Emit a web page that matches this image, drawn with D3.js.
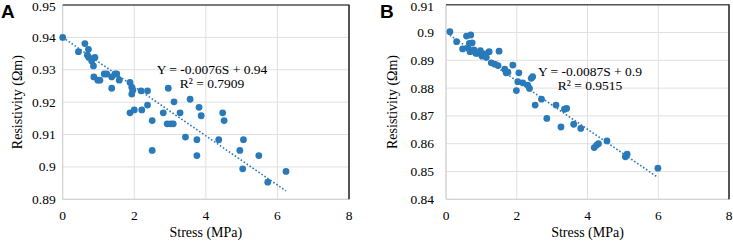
<!DOCTYPE html>
<html>
<head>
<meta charset="utf-8">
<script src="https://cdn.jsdelivr.net/npm/d3@7"></script>
<style>
  html, body { margin: 0; padding: 0; background: #fff; }
  svg { display: block; }
  text { font-family: "Liberation Serif", "Times New Roman", serif; fill: #000; }
</style>
</head>
<body>
<svg id="chart" width="733" height="242"></svg>
<script>
// ---------- data ----------
const xTicks = [0, 2, 4, 6, 8];
const yTicksA = [0.89, 0.90, 0.91, 0.92, 0.93, 0.94, 0.95];
const yTickLabelsA = ["0.89", "0.9", "0.91", "0.92", "0.93", "0.94", "0.95"];
const yTicksB = [0.84, 0.85, 0.86, 0.87, 0.88, 0.89, 0.90, 0.91];
const yTickLabelsB = ["0.84", "0.85", "0.86", "0.87", "0.88", "0.89", "0.9", "0.91"];

const stressA = [0, 0.44, 0.62, 0.69, 0.72, 0.73, 0.81, 0.90, 0.86, 0.87, 0.98, 1.04, 1.16, 1.23, 1.37, 1.37, 1.46, 1.51, 1.58, 1.88, 1.93, 1.96, 1.93, 2.19, 2.37, 2.95, 3.11, 3.56, 3.81, 3.87, 4.47, 4.51, 1.88, 2.00, 2.21, 2.37, 2.81, 3.28, 2.50, 2.92, 3.02, 3.09, 3.43, 3.75, 4.36, 5.05, 2.50, 3.75, 4.95, 5.03, 5.48, 5.73, 6.24];
const resA    = [0.940, 0.9356, 0.9381, 0.9345, 0.9363, 0.9338, 0.9327, 0.9338, 0.9312, 0.9278, 0.9268, 0.9268, 0.9287, 0.9287, 0.9278, 0.9243, 0.9287, 0.9287, 0.9268, 0.9261, 0.9246, 0.9237, 0.9225, 0.9235, 0.9235, 0.9243, 0.9201, 0.9209, 0.9184, 0.9158, 0.9167, 0.9143, 0.9167, 0.9176, 0.9176, 0.9191, 0.9167, 0.9167, 0.9143, 0.9133, 0.9133, 0.9133, 0.9092, 0.9084, 0.9084, 0.9084, 0.9051, 0.9035, 0.9051, 0.8994, 0.9035, 0.8953, 0.8986];

const stressB = [0.11, 0.30, 0.47, 0.58, 0.70, 0.66, 0.74, 0.63, 0.68, 0.79, 0.84, 0.89, 0.97, 1.02, 1.10, 1.14, 1.22, 1.50, 1.28, 1.38, 1.47, 1.66, 1.70, 1.75, 1.89, 2.06, 2.03, 1.99, 2.17, 2.31, 2.36, 2.41, 2.45, 2.52, 2.70, 2.85, 3.11, 3.35, 3.41, 3.25, 3.61, 3.81, 4.19, 4.26, 4.31, 4.55, 5.07, 5.12, 5.99];
const resB    = [0.9003, 0.8967, 0.8941, 0.8987, 0.8991, 0.8961, 0.8963, 0.8943, 0.8931, 0.8937, 0.8925, 0.8925, 0.8935, 0.8915, 0.8923, 0.8911, 0.8931, 0.8933, 0.8891, 0.8886, 0.8881, 0.8868, 0.8855, 0.8857, 0.8883, 0.8855, 0.8823, 0.8791, 0.8819, 0.8811, 0.8799, 0.8835, 0.8841, 0.8739, 0.8760, 0.8691, 0.8739, 0.8724, 0.8727, 0.8660, 0.8670, 0.8655, 0.8586, 0.8595, 0.8600, 0.8610, 0.8553, 0.8562, 0.8512];

const trendA = { slope: -0.0076, intercept: 0.94, from: 0, to: 6.24 };
const trendB = { slope: -0.0087, intercept: 0.9, from: 0.11, to: 5.99 };
const eqA = ["Y = -0.0076S + 0.94", "R² = 0.7909"];
const eqB = ["Y = -0.0087S + 0.9", "R² = 0.9515"];

// ---------- drawing ----------
const svg = d3.select("#chart");
const blue = "#2a7ab9";

function panel(cfg) {
  const g = svg.append("g");
  const x = d3.scaleLinear().domain([0, 8]).range([cfg.left, cfg.right]);
  const y = d3.scaleLinear().domain(cfg.yDomain).range([cfg.bottom, cfg.top]);

  // gridlines
  g.append("g").selectAll("line").data(xTicks).join("line")
    .attr("x1", d => x(d)).attr("x2", d => x(d))
    .attr("y1", cfg.top).attr("y2", cfg.bottom)
    .attr("stroke", "#e0e0e0").attr("stroke-width", 1);
  g.append("g").selectAll("line").data(cfg.yTicks).join("line")
    .attr("x1", cfg.left).attr("x2", cfg.right)
    .attr("y1", d => y(d)).attr("y2", d => y(d))
    .attr("stroke", "#e0e0e0").attr("stroke-width", 1);

  // axis lines (left & bottom light)
  g.append("line").attr("x1", cfg.left).attr("x2", cfg.left)
    .attr("y1", cfg.top).attr("y2", cfg.bottom).attr("stroke", "#cfcfcf");
  g.append("line").attr("x1", cfg.left).attr("x2", cfg.right)
    .attr("y1", cfg.bottom).attr("y2", cfg.bottom).attr("stroke", "#cfcfcf");
  // top & right border dark
  g.append("line").attr("x1", cfg.left).attr("x2", cfg.right + 0.5)
    .attr("y1", cfg.top).attr("y2", cfg.top).attr("stroke", "#555").attr("stroke-width", 1.5);
  g.append("line").attr("x1", cfg.right).attr("x2", cfg.right)
    .attr("y1", cfg.top).attr("y2", cfg.bottom).attr("stroke", "#222").attr("stroke-width", 1.5);

  // tick labels
  g.append("g").selectAll("text").data(xTicks).join("text")
    .attr("x", d => x(d)).attr("y", cfg.bottom + 21)
    .attr("text-anchor", "middle").attr("font-size", 13.5)
    .text(d => d);
  g.append("g").selectAll("text").data(cfg.yTicks).join("text")
    .attr("x", cfg.left - cfg.labGap).attr("y", d => Math.max(y(d) + 4.5, 11))
    .attr("text-anchor", "end").attr("font-size", 13.5)
    .text((d, i) => cfg.yLabels[i]);

  // titles
  g.append("text").attr("x", (cfg.left + cfg.right) / 2).attr("y", 237)
    .attr("text-anchor", "middle").attr("font-size", 14).text("Stress (MPa)");
  g.append("text")
    .attr("transform", `translate(${cfg.yTitleX},${(cfg.top + cfg.bottom) / 2}) rotate(-90)`)
    .attr("text-anchor", "middle").attr("font-size", 14).text("Resistivity (Ωm)");

  // points
  const pts = cfg.xs.map((s, i) => [s, cfg.ys[i]]);
  g.append("g").selectAll("circle").data(pts).join("circle")
    .attr("cx", d => x(d[0])).attr("cy", d => y(d[1])).attr("r", 3.4)
    .attr("fill", blue);

  // trend line
  const t = cfg.trend;
  g.append("line")
    .attr("x1", x(t.from)).attr("y1", y(t.intercept + t.slope * t.from))
    .attr("x2", x(t.to)).attr("y2", y(t.intercept + t.slope * t.to))
    .attr("stroke", blue).attr("stroke-width", 1.6)
    .attr("stroke-dasharray", "1.6,2");

  // equation
  g.append("text").attr("x", cfg.eqX).attr("y", cfg.eqY)
    .attr("text-anchor", "middle").attr("font-size", 13.5).text(cfg.eq[0]);
  g.append("text").attr("x", cfg.eqX).attr("y", cfg.eqY + 14)
    .attr("text-anchor", "middle").attr("font-size", 13.5).text(cfg.eq[1]);

  // panel letter
  g.append("text").attr("x", cfg.letterX).attr("y", 18)
    .style("font-family", "'Liberation Sans', Arial, sans-serif")
    .attr("font-weight", "bold").attr("font-size", 19).text(cfg.letter);
}

panel({
  left: 62.7, right: 349, top: 5, bottom: 199.3,
  yDomain: [0.89, 0.95], yTicks: yTicksA, yLabels: yTickLabelsA, labGap: 7,
  xs: stressA, ys: resA, trend: trendA, eq: eqA, eqX: 212, eqY: 74,
  yTitleX: 22, letter: "A", letterX: 1
});
panel({
  left: 446, right: 729, top: 4.7, bottom: 199.3,
  yDomain: [0.84, 0.91], yTicks: yTicksB, yLabels: yTickLabelsB, labGap: 12,
  xs: stressB, ys: resB, trend: trendB, eq: eqB, eqX: 590, eqY: 76,
  yTitleX: 397, letter: "B", letterX: 380
});
</script>
</body>
</html>
